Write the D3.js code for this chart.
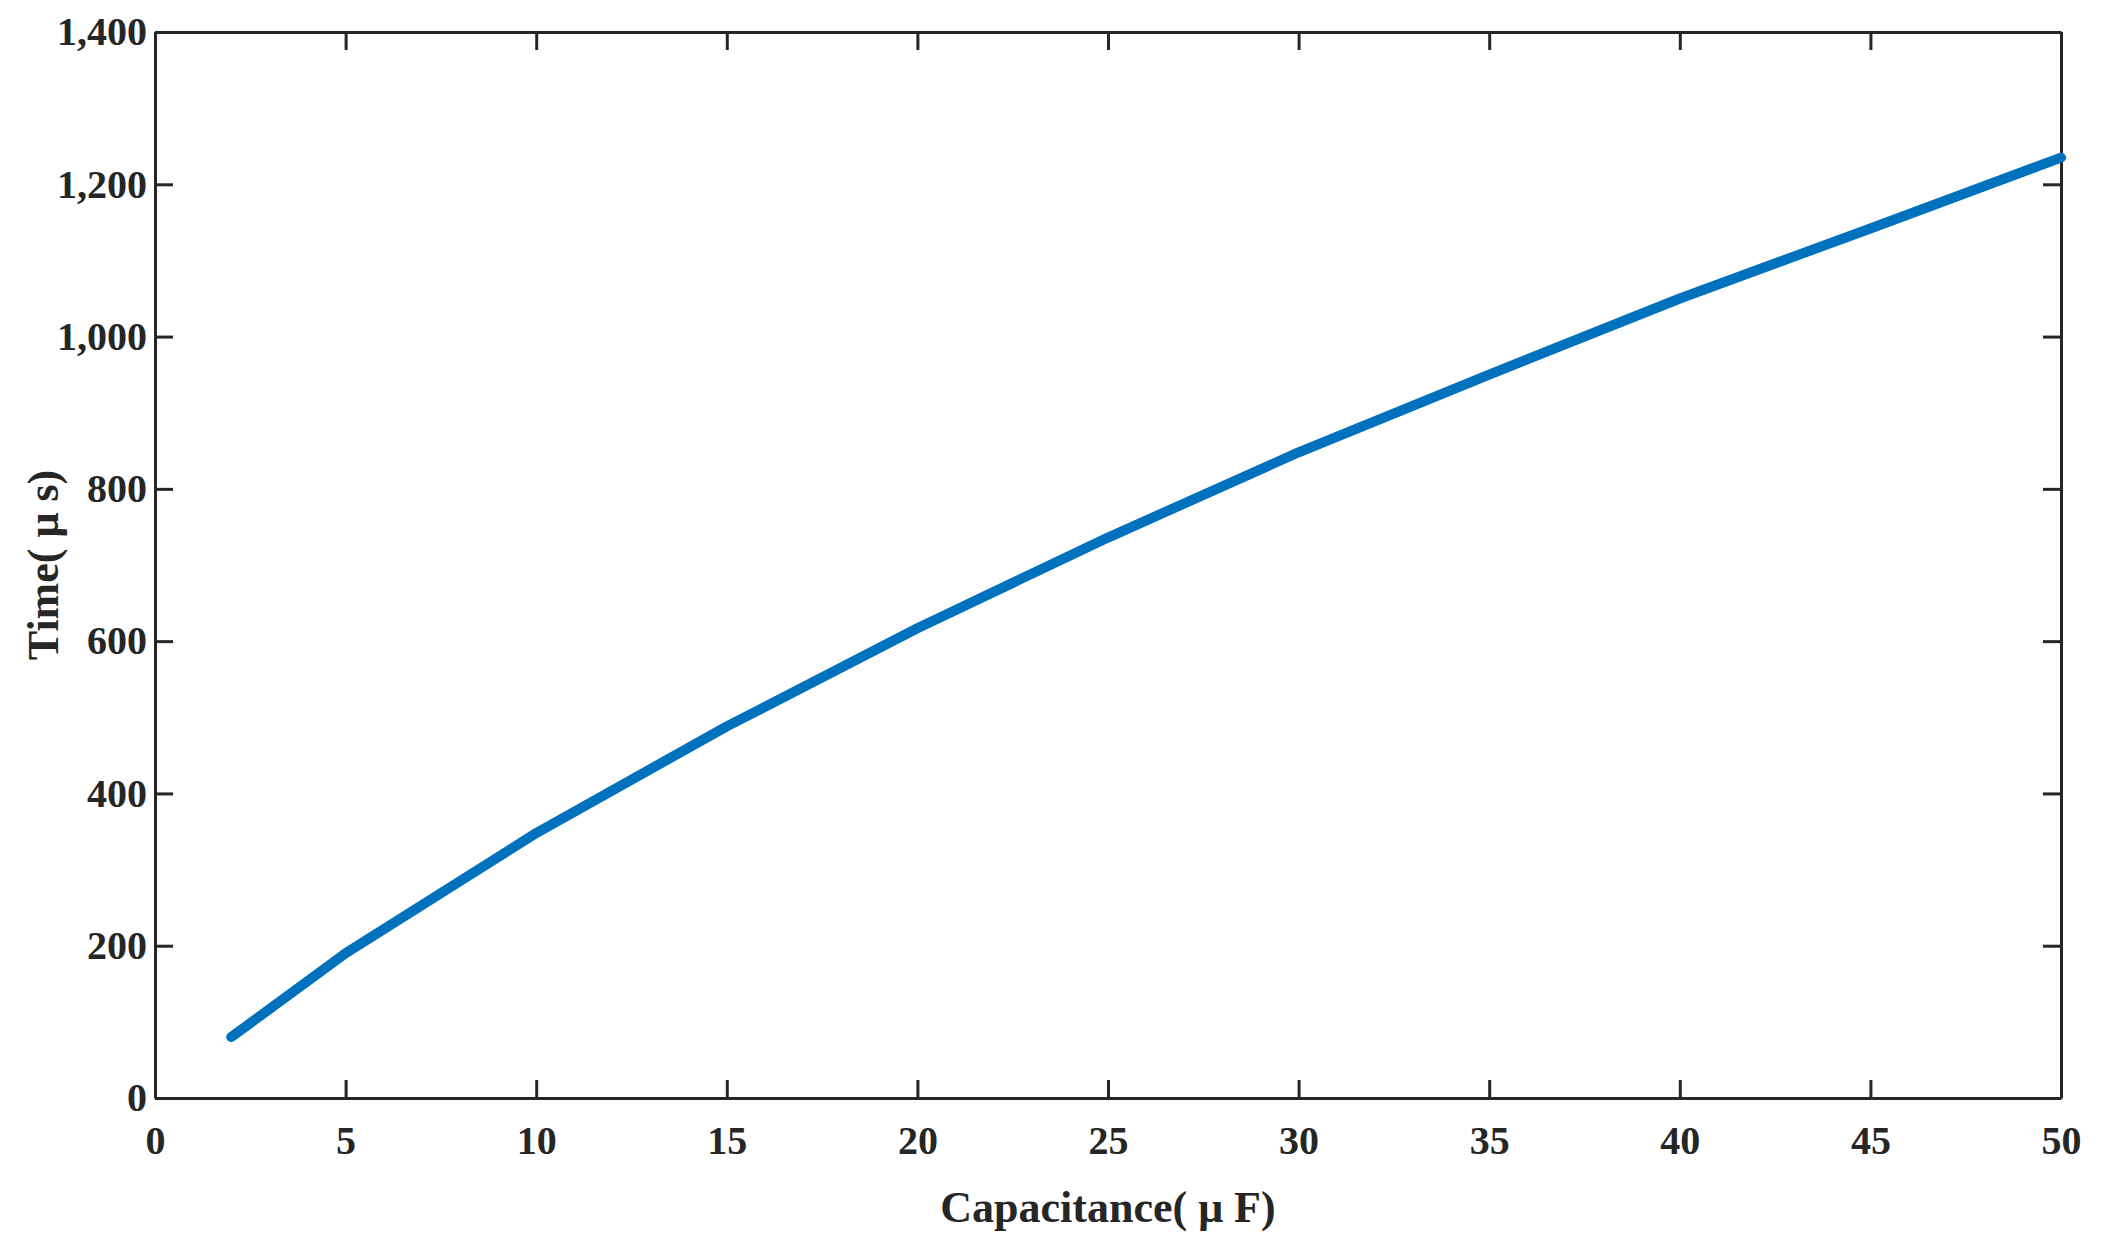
<!DOCTYPE html>
<html><head><meta charset="utf-8">
<script src="https://cdn.jsdelivr.net/npm/d3@7"></script>
<style>body{margin:0;background:#fff}</style></head>
<body><script>
// data
const capacitance = [2, 5, 10, 15, 20, 25, 30, 35, 40, 45, 50]
const time = [80, 190, 348, 488, 617, 736, 848, 950, 1050, 1142, 1235]
const xTicks = [0, 5, 10, 15, 20, 25, 30, 35, 40, 45, 50]
const yTicks = [0, 200, 400, 600, 800, 1000, 1200, 1400]

const width = 2117, height = 1248
const margin = {top: 32, left: 155, right: 56, bottom: 150}
const font = "'Liberation Serif', 'Times New Roman', serif"
const ink = "#262626"

const svg = d3.select("body").append("svg")
  .attr("width", width).attr("height", height)

const x = d3.scaleLinear([0, 50], [margin.left, width - margin.right])
const y = d3.scaleLinear([0, 1400], [height - margin.bottom, margin.top])

// axes with inward ticks
function styleAxis(g) {
  g.selectAll("path,line").attr("stroke", ink).attr("stroke-width", 3)
  g.selectAll("text").attr("fill", ink).style("font", `bold 40px ${font}`)
}
svg.append("g").attr("transform", `translate(0,${y(0)})`)
  .call(d3.axisBottom(x).tickValues(xTicks).tickSizeInner(-18).tickSizeOuter(0).tickPadding(28))
  .call(styleAxis)
svg.append("g").attr("transform", `translate(0,${y(1400)})`)
  .call(d3.axisTop(x).tickValues(xTicks).tickSizeInner(-18).tickSizeOuter(0).tickFormat(""))
  .call(styleAxis)
svg.append("g").attr("transform", `translate(${x(0)},0)`)
  .call(d3.axisLeft(y).tickValues(yTicks).tickSizeInner(-18).tickSizeOuter(0).tickPadding(8))
  .call(styleAxis)
svg.append("g").attr("transform", `translate(${x(50)},0)`)
  .call(d3.axisRight(y).tickValues(yTicks).tickSizeInner(-18).tickSizeOuter(0).tickFormat(""))
  .call(styleAxis)

// line
svg.append("path")
  .datum(d3.zip(capacitance, time))
  .attr("fill", "none")
  .attr("stroke", "#0072BD")
  .attr("stroke-width", 10)
  .attr("stroke-linecap", "round")
  .attr("stroke-linejoin", "round")
  .attr("d", d3.line(d => x(d[0]), d => y(d[1])))

// axis titles
svg.append("text")
  .attr("x", (x(0) + x(50)) / 2).attr("y", 1222)
  .attr("text-anchor", "middle").attr("fill", ink)
  .style("font", `bold 44px ${font}`)
  .text("Capacitance( μ F)")
svg.append("text")
  .attr("transform", `translate(58,${(y(0) + y(1400)) / 2}) rotate(-90)`)
  .attr("text-anchor", "middle").attr("fill", ink)
  .style("font", `bold 44px ${font}`)
  .text("Time( μ s)")
</script></body></html>
